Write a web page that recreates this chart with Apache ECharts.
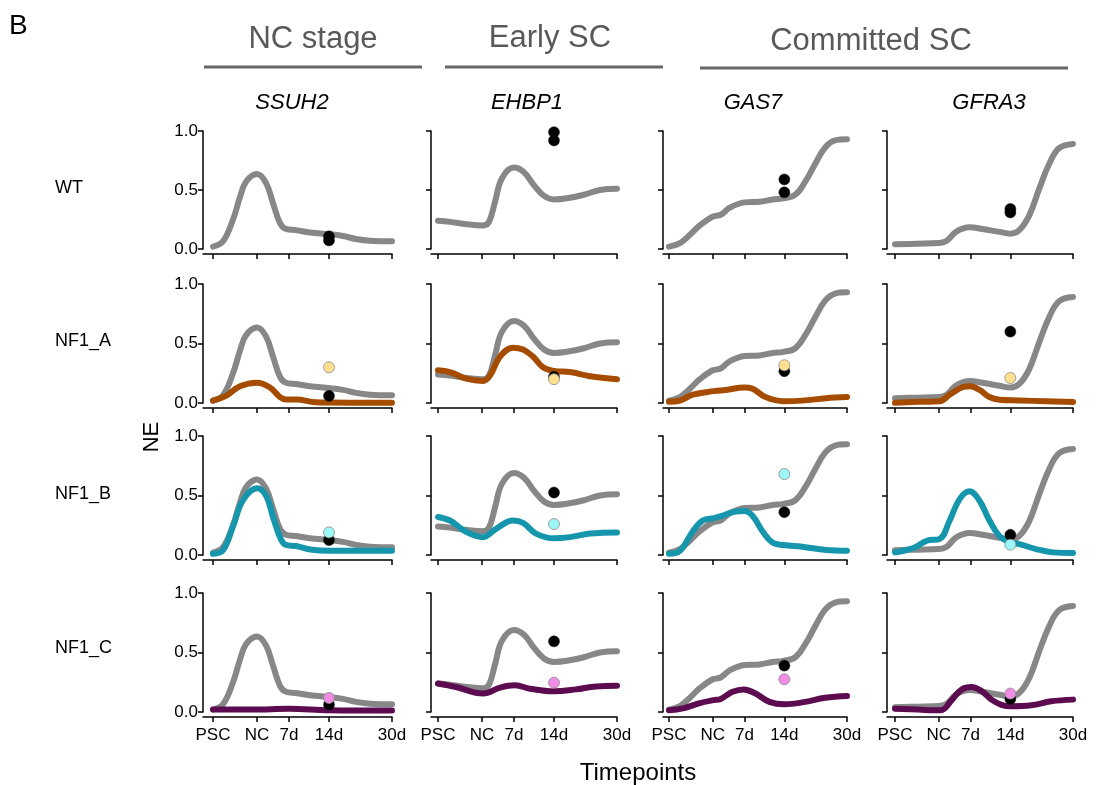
<!DOCTYPE html>
<html><head><meta charset="utf-8">
<script src="https://cdn.jsdelivr.net/npm/echarts@6/dist/echarts.min.js"></script>
<style>html,body{margin:0;padding:0;background:#fff;}#c{width:1096px;height:785px;}</style>
</head><body><div id="c"></div>
<script>
// ---------- DATA ----------
const timepoints = ['PSC', 'NC', '7d', '14d', '30d'];
const timepointPos = [0, 44, 76, 116, 179];   // position of each timepoint on the (uneven) time axis
const pointTime = 116;                          // measured points sit at 14d
const genes = ['SSUH2', 'EHBP1', 'GAS7', 'GFRA3'];
const groups = ['WT', 'NF1_A', 'NF1_B', 'NF1_C'];

// WT (grey) trajectories, [time position, NE]
const wt_SSUH2 = [[0,0.02],[10,0.065],[20,0.25],[27,0.44],[33,0.57],[44,0.635],[53,0.56],[60,0.39],[67,0.22],[73,0.17],[83,0.16],[97,0.14],[117,0.125],[130,0.11],[143,0.085],[157,0.07],[179,0.065]];
const wt_EHBP1 = [[0,0.24],[12,0.23],[29,0.21],[45,0.20],[51,0.23],[57,0.40],[64,0.60],[76,0.69],[86,0.65],[96,0.54],[106,0.45],[116,0.42],[129,0.43],[146,0.46],[162,0.50],[179,0.51]];
const wt_GAS7 = [[0,0.02],[11,0.05],[21,0.12],[31,0.20],[44,0.275],[52,0.29],[61,0.35],[76,0.395],[91,0.40],[104,0.42],[115,0.43],[127,0.46],[137,0.57],[147,0.72],[157,0.86],[167,0.92],[179,0.93]];
const wt_GFRA3 = [[0,0.04],[22,0.045],[44,0.05],[52,0.07],[62,0.15],[75,0.185],[88,0.17],[105,0.145],[116,0.13],[125,0.16],[135,0.285],[145,0.51],[155,0.72],[165,0.855],[179,0.89]];

// NF1_A (brown) trajectories
const nf1a_SSUH2 = [[0,0.02],[13,0.06],[27,0.14],[44,0.17],[57,0.13],[67,0.05],[73,0.03],[83,0.03],[103,0.006],[117,0.004],[179,0.002]];
const nf1a_EHBP1 = [[0,0.275],[12,0.26],[28,0.205],[45,0.185],[52,0.23],[62,0.39],[75,0.465],[85,0.45],[95,0.39],[105,0.30],[116,0.27],[132,0.26],[152,0.225],[179,0.20]];
const nf1a_GAS7 = [[0,0.01],[11,0.02],[24,0.07],[45,0.10],[57,0.11],[76,0.13],[84,0.12],[97,0.05],[115,0.015],[134,0.02],[158,0.04],[179,0.05]];
const nf1a_GFRA3 = [[0,0.002],[25,0.01],[45,0.015],[55,0.07],[69,0.135],[75,0.14],[85,0.11],[95,0.05],[105,0.028],[125,0.022],[152,0.014],[179,0.008]];

// NF1_B (teal) trajectories
const nf1b_SSUH2 = [[0,0.01],[10,0.04],[20,0.24],[30,0.46],[44,0.56],[53,0.50],[60,0.32],[68,0.13],[73,0.084],[83,0.075],[97,0.047],[117,0.036],[179,0.036]];
const nf1b_EHBP1 = [[0,0.32],[12,0.29],[28,0.195],[45,0.15],[58,0.22],[75,0.29],[85,0.27],[98,0.18],[116,0.14],[132,0.15],[152,0.18],[179,0.19]];
const nf1b_GAS7 = [[0,0.01],[11,0.035],[24,0.20],[34,0.29],[45,0.31],[54,0.33],[64,0.36],[76,0.37],[84,0.33],[94,0.20],[104,0.105],[115,0.084],[134,0.07],[158,0.042],[179,0.036]];
const nf1b_GFRA3 = [[0,0.022],[19,0.06],[32,0.12],[45,0.135],[55,0.29],[65,0.47],[75,0.535],[85,0.456],[95,0.29],[105,0.16],[116,0.106],[125,0.092],[142,0.05],[159,0.022],[179,0.017]];

// NF1_C (purple) trajectories
const nf1c_SSUH2 = [[0,0.02],[40,0.02],[76,0.028],[116,0.015],[179,0.012]];
const nf1c_EHBP1 = [[0,0.24],[18,0.21],[45,0.155],[62,0.205],[77,0.224],[92,0.196],[116,0.174],[138,0.19],[158,0.215],[179,0.22]];
const nf1c_GAS7 = [[0,0.014],[14,0.03],[31,0.075],[45,0.10],[52,0.11],[64,0.17],[75,0.19],[87,0.155],[101,0.085],[116,0.065],[137,0.085],[157,0.12],[179,0.135]];
const nf1c_GFRA3 = [[0,0.028],[23,0.02],[46,0.014],[57,0.10],[67,0.19],[77,0.21],[87,0.176],[97,0.104],[107,0.06],[117,0.048],[137,0.056],[157,0.09],[179,0.104]];

// measured values at 14d (per gene, in gene order)
const wtPts_SSUH2 = [0.107, 0.073];
const wtPts_EHBP1 = [0.99, 0.92];
const wtPts_GAS7 = [0.59, 0.48];
const wtPts_GFRA3 = [0.34, 0.31];
const nf1aBlack = [0.06, 0.22, 0.267, 0.60];
const nf1aColor = [0.30, 0.20, 0.317, 0.21];
const nf1bBlack = [0.126, 0.525, 0.36, 0.17];
const nf1bColor = [0.19, 0.26, 0.68, 0.087];
const nf1cBlack = [0.062, 0.594, 0.39, 0.11];
const nf1cColor = [0.118, 0.246, 0.275, 0.155];

// ---------- LAYOUT / STYLE ----------
const FONT = '"Liberation Sans", Arial, Helvetica, sans-serif';
const rowTop = [131, 284, 436, 593];
const rowH = [118, 119, 119, 119];
const colAxisX = [203, 431, 663, 887];
const colPSC = [213, 438, 669, 895];
const col30d = [392, 617, 847, 1073];
const greyC = '#878787';
const lineC = [null, '#A54C00', '#1596AD', '#5C0B50'];
const ptC = [null, '#FFE08E', '#9EF7F7', '#F08CE4'];

const wtCurves = [wt_SSUH2, wt_EHBP1, wt_GAS7, wt_GFRA3];
const mutCurves = [null, [nf1a_SSUH2, nf1a_EHBP1, nf1a_GAS7, nf1a_GFRA3],
  [nf1b_SSUH2, nf1b_EHBP1, nf1b_GAS7, nf1b_GFRA3],
  [nf1c_SSUH2, nf1c_EHBP1, nf1c_GAS7, nf1c_GFRA3]];
const wtPts = [wtPts_SSUH2, wtPts_EHBP1, wtPts_GAS7, wtPts_GFRA3];
const blackPts = [null, nf1aBlack, nf1bBlack, nf1cBlack];
const colorPts = [null, nf1aColor, nf1bColor, nf1cColor];

const grids = [], xAxes = [], yAxes = [], series = [];
const tMax = timepointPos[timepointPos.length - 1];
const SMOOTH = 0.4;
for (let r = 0; r < 4; r++) {
  for (let c = 0; c < 4; c++) {
    const idx = r * 4 + c;
    const unitsPerPx = tMax / (col30d[c] - colPSC[c]);
    const xmin = -(colPSC[c] - colAxisX[c]) * unitsPerPx;
    grids.push({ left: colAxisX[c], top: rowTop[r], width: col30d[c] - colAxisX[c], height: rowH[r], containLabel: false });
    xAxes.push({
      type: 'value', gridIndex: idx, min: xmin, max: tMax, offset: 5,
      axisLine: { show: true, onZero: false, lineStyle: { color: '#000', width: 1.5 } },
      axisTick: { show: true, length: 5, lineStyle: { color: '#000', width: 1.5 }, customValues: timepointPos },
      axisLabel: { show: r === 3, customValues: timepointPos, fontSize: 17, color: '#000', fontFamily: FONT, margin: 10,
        formatter: v => { const i = timepointPos.indexOf(v); return i >= 0 ? timepoints[i] : ''; } },
      splitLine: { show: false }
    });
    yAxes.push({
      type: 'value', gridIndex: idx, min: 0, max: 1, interval: 0.5,
      axisLine: { show: true, onZero: false, lineStyle: { color: '#000', width: 1.5 } },
      axisTick: { show: true, length: 5, lineStyle: { color: '#000', width: 1.5 } },
      axisLabel: { show: c === 0, fontSize: 17, color: '#000', fontFamily: FONT, margin: 5, formatter: v => v.toFixed(1) },
      splitLine: { show: false }
    });
    const common = { xAxisIndex: idx, yAxisIndex: idx, animation: false, silent: true };
    series.push(Object.assign({ type: 'line', data: wtCurves[c], smooth: SMOOTH, showSymbol: false, z: 2,
      lineStyle: { color: greyC, width: 6, cap: 'round', join: 'round' }, clip: false }, common));
    if (r > 0) {
      series.push(Object.assign({ type: 'line', data: mutCurves[r][c], smooth: SMOOTH, showSymbol: false, z: 3,
        lineStyle: { color: lineC[r], width: 6, cap: 'round', join: 'round' }, clip: false }, common));
      series.push(Object.assign({ type: 'scatter', data: [[pointTime, blackPts[r][c]]], symbolSize: 11, z: 4, clip: false,
        itemStyle: { color: '#000', borderColor: '#111', borderWidth: 0.5, opacity: 1 } }, common));
      series.push(Object.assign({ type: 'scatter', data: [[pointTime, colorPts[r][c]]], symbolSize: 11, z: 5, clip: false,
        itemStyle: { color: ptC[r], borderColor: '#8a8a8a', borderWidth: 0.8, opacity: 1 } }, common));
    } else {
      series.push(Object.assign({ type: 'scatter', data: wtPts[c].map(v => [pointTime, v]), symbolSize: 11, z: 4, clip: false,
        itemStyle: { color: '#000', borderColor: '#111', borderWidth: 0.5, opacity: 1 } }, common));
    }
  }
}

const txt = (x, y, text, size, opts) => Object.assign({ type: 'text', x: x, y: y, silent: true,
  style: Object.assign({ text: text, fontSize: size, fontFamily: FONT, fill: '#000', align: 'center', verticalAlign: 'middle' }, opts || {}) });
const hline = (x1, x2, y) => ({ type: 'line', silent: true, shape: { x1: x1, y1: y, x2: x2, y2: y }, style: { stroke: '#666', lineWidth: 3 } });

const geneX = [292, 527, 753, 989];
const rowLabelY = [188, 341, 494, 648];
const graphic = [
  txt(9, 26, 'B', 28, { align: 'left' }),
  txt(313, 39, 'NC stage', 31, { fill: '#595959' }),
  txt(550, 38, 'Early SC', 31, { fill: '#595959' }),
  txt(871, 41, 'Committed SC', 31, { fill: '#595959' }),
  hline(204, 422, 67), hline(445, 663, 67), hline(700, 1068, 68),
  txt(152, 437, 'NE', 22, {}),
  txt(638, 773, 'Timepoints', 24, {})
];
graphic[7].rotation = Math.PI / 2;
genes.forEach((g, i) => graphic.push(txt(geneX[i], 103, g, 22, { fontStyle: 'italic' })));
groups.forEach((g, i) => graphic.push(txt(55, rowLabelY[i], g, 18, { align: 'left' })));

const chart = echarts.init(document.getElementById('c'), null, { renderer: 'canvas' });
chart.setOption({ animation: false, backgroundColor: '#fff', grid: grids, xAxis: xAxes, yAxis: yAxes, series: series, graphic: graphic });
</script></body></html>
